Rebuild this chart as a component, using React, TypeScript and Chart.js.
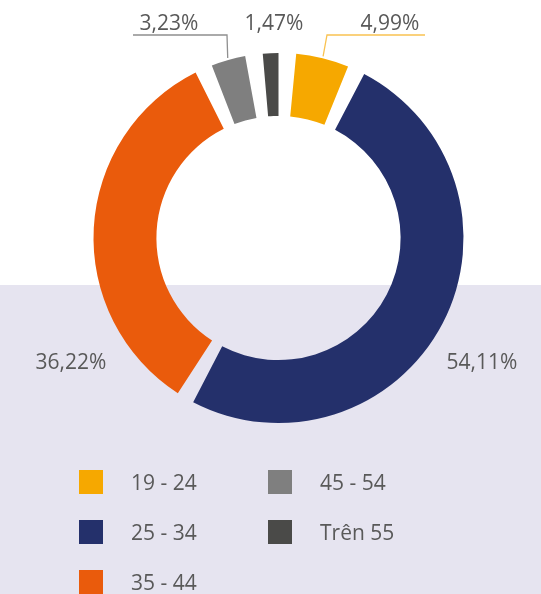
import React, { useEffect, useRef } from "react";
import { Chart, registerables } from "chart.js";

Chart.register(...registerables);

const categories = ["19 - 24", "25 - 34", "35 - 44", "45 - 54", "Trên 55"];
const values = [4.99, 54.11, 36.22, 3.23, 1.47];
const colors = ["#f6a800", "#24306b", "#ea5b0c", "#7f7f7f", "#4a4a48"];

const FONT = "'Open Sans', 'Noto Sans', sans-serif";
const TEXT_COLOR = "#595959";
const GAP_DEG = 5.5; // angular gap between slices (visual style)

// label placement (text centre) and optional leader elbow
const labelLayout = [
  { x: 390, y: 24, leader: { elbowX: 327, elbowY: 35, endX: 425, color: "#f9c251" } },
  { x: 482, y: 363 },
  { x: 71, y: 363 },
  { x: 169, y: 24, leader: { elbowX: 227, elbowY: 35, endX: 133, color: "#8f8f8f" } },
  { x: 274, y: 24 },
];

const legendLayout = [
  { col: 0, row: 0 },
  { col: 0, row: 1 },
  { col: 0, row: 2 },
  { col: 1, row: 0 },
  { col: 1, row: 1 },
];

const fmt = (v: number) => v.toFixed(2).replace(".", ",") + "%";

const total = values.reduce((a, b) => a + b, 0);
const gapValue = (GAP_DEG * total) / (360 - values.length * GAP_DEG);
const chartData: number[] = [];
const chartColors: string[] = [];
values.forEach((v, i) => {
  chartData.push(v, gapValue);
  chartColors.push(colors[i], "rgba(0,0,0,0)");
});

const labelPlugin = {
  id: "customLabels",
  afterDatasetsDraw(chart: any) {
    const ctx = chart.ctx;
    const meta = chart.getDatasetMeta(0);
    ctx.save();
    values.forEach((v, i) => {
      const arc = meta.data[i * 2];
      const lay = labelLayout[i];
      const { x, y, startAngle, endAngle, outerRadius } = arc.getProps(
        ["x", "y", "startAngle", "endAngle", "outerRadius"],
        true
      );
      if (lay.leader) {
        const mid = (startAngle + endAngle) / 2;
        const px = x + Math.cos(mid) * (outerRadius + 2);
        const py = y + Math.sin(mid) * (outerRadius + 2);
        ctx.strokeStyle = lay.leader.color;
        ctx.lineWidth = 1.3;
        ctx.beginPath();
        ctx.moveTo(px, py);
        ctx.lineTo(lay.leader.elbowX, lay.leader.elbowY);
        ctx.lineTo(lay.leader.endX, lay.leader.elbowY);
        ctx.stroke();
      }
      ctx.fillStyle = TEXT_COLOR;
      ctx.font = `21px ${FONT}`;
      ctx.textAlign = "center";
      ctx.textBaseline = "middle";
      ctx.fillText(fmt(v), lay.x, lay.y);
    });
    ctx.restore();
  },
};

export default function App() {
  const ref = useRef<HTMLCanvasElement | null>(null);

  useEffect(() => {
    if (!ref.current) return;
    const gapDeg = (gapValue / (total + values.length * gapValue)) * 360;
    const chart = new Chart(ref.current, {
      type: "doughnut",
      data: {
        labels: categories.flatMap((c) => [c, ""]),
        datasets: [
          {
            data: chartData,
            backgroundColor: chartColors,
            borderWidth: 0,
          },
        ],
      },
      options: {
        responsive: false,
        animation: false,
        cutout: "66%",
        rotation: gapDeg,
        layout: { padding: { left: 93.5, right: 77.5, top: 53, bottom: 171 } },
        plugins: {
          legend: { display: false },
          tooltip: { enabled: false },
        },
      },
      plugins: [labelPlugin],
    });
    return () => chart.destroy();
  }, []);

  return (
    <div
      style={{
        position: "fixed",
        left: 0,
        top: 0,
        width: 541,
        height: 594,
        overflow: "hidden",
        background:
          "linear-gradient(to bottom, #ffffff 0px, #ffffff 285px, #e6e4f0 285px, #e6e4f0 100%)",
        fontFamily: FONT,
      }}
    >
      <canvas ref={ref} width={541} height={594} style={{ position: "absolute", left: 0, top: 0 }} />
      {categories.map((c, i) => {
        const l = legendLayout[i];
        const left = l.col === 0 ? 79 : 268;
        const top = 470 + l.row * 50;
        return (
          <div
            key={c}
            style={{ position: "absolute", left, top, height: 24, display: "flex", alignItems: "center" }}
          >
            <div style={{ width: 24, height: 24, background: colors[i] }} />
            <span
              style={{ marginLeft: 28, fontSize: 21, color: TEXT_COLOR, lineHeight: "24px", whiteSpace: "nowrap" }}
            >
              {c}
            </span>
          </div>
        );
      })}
    </div>
  );
}
